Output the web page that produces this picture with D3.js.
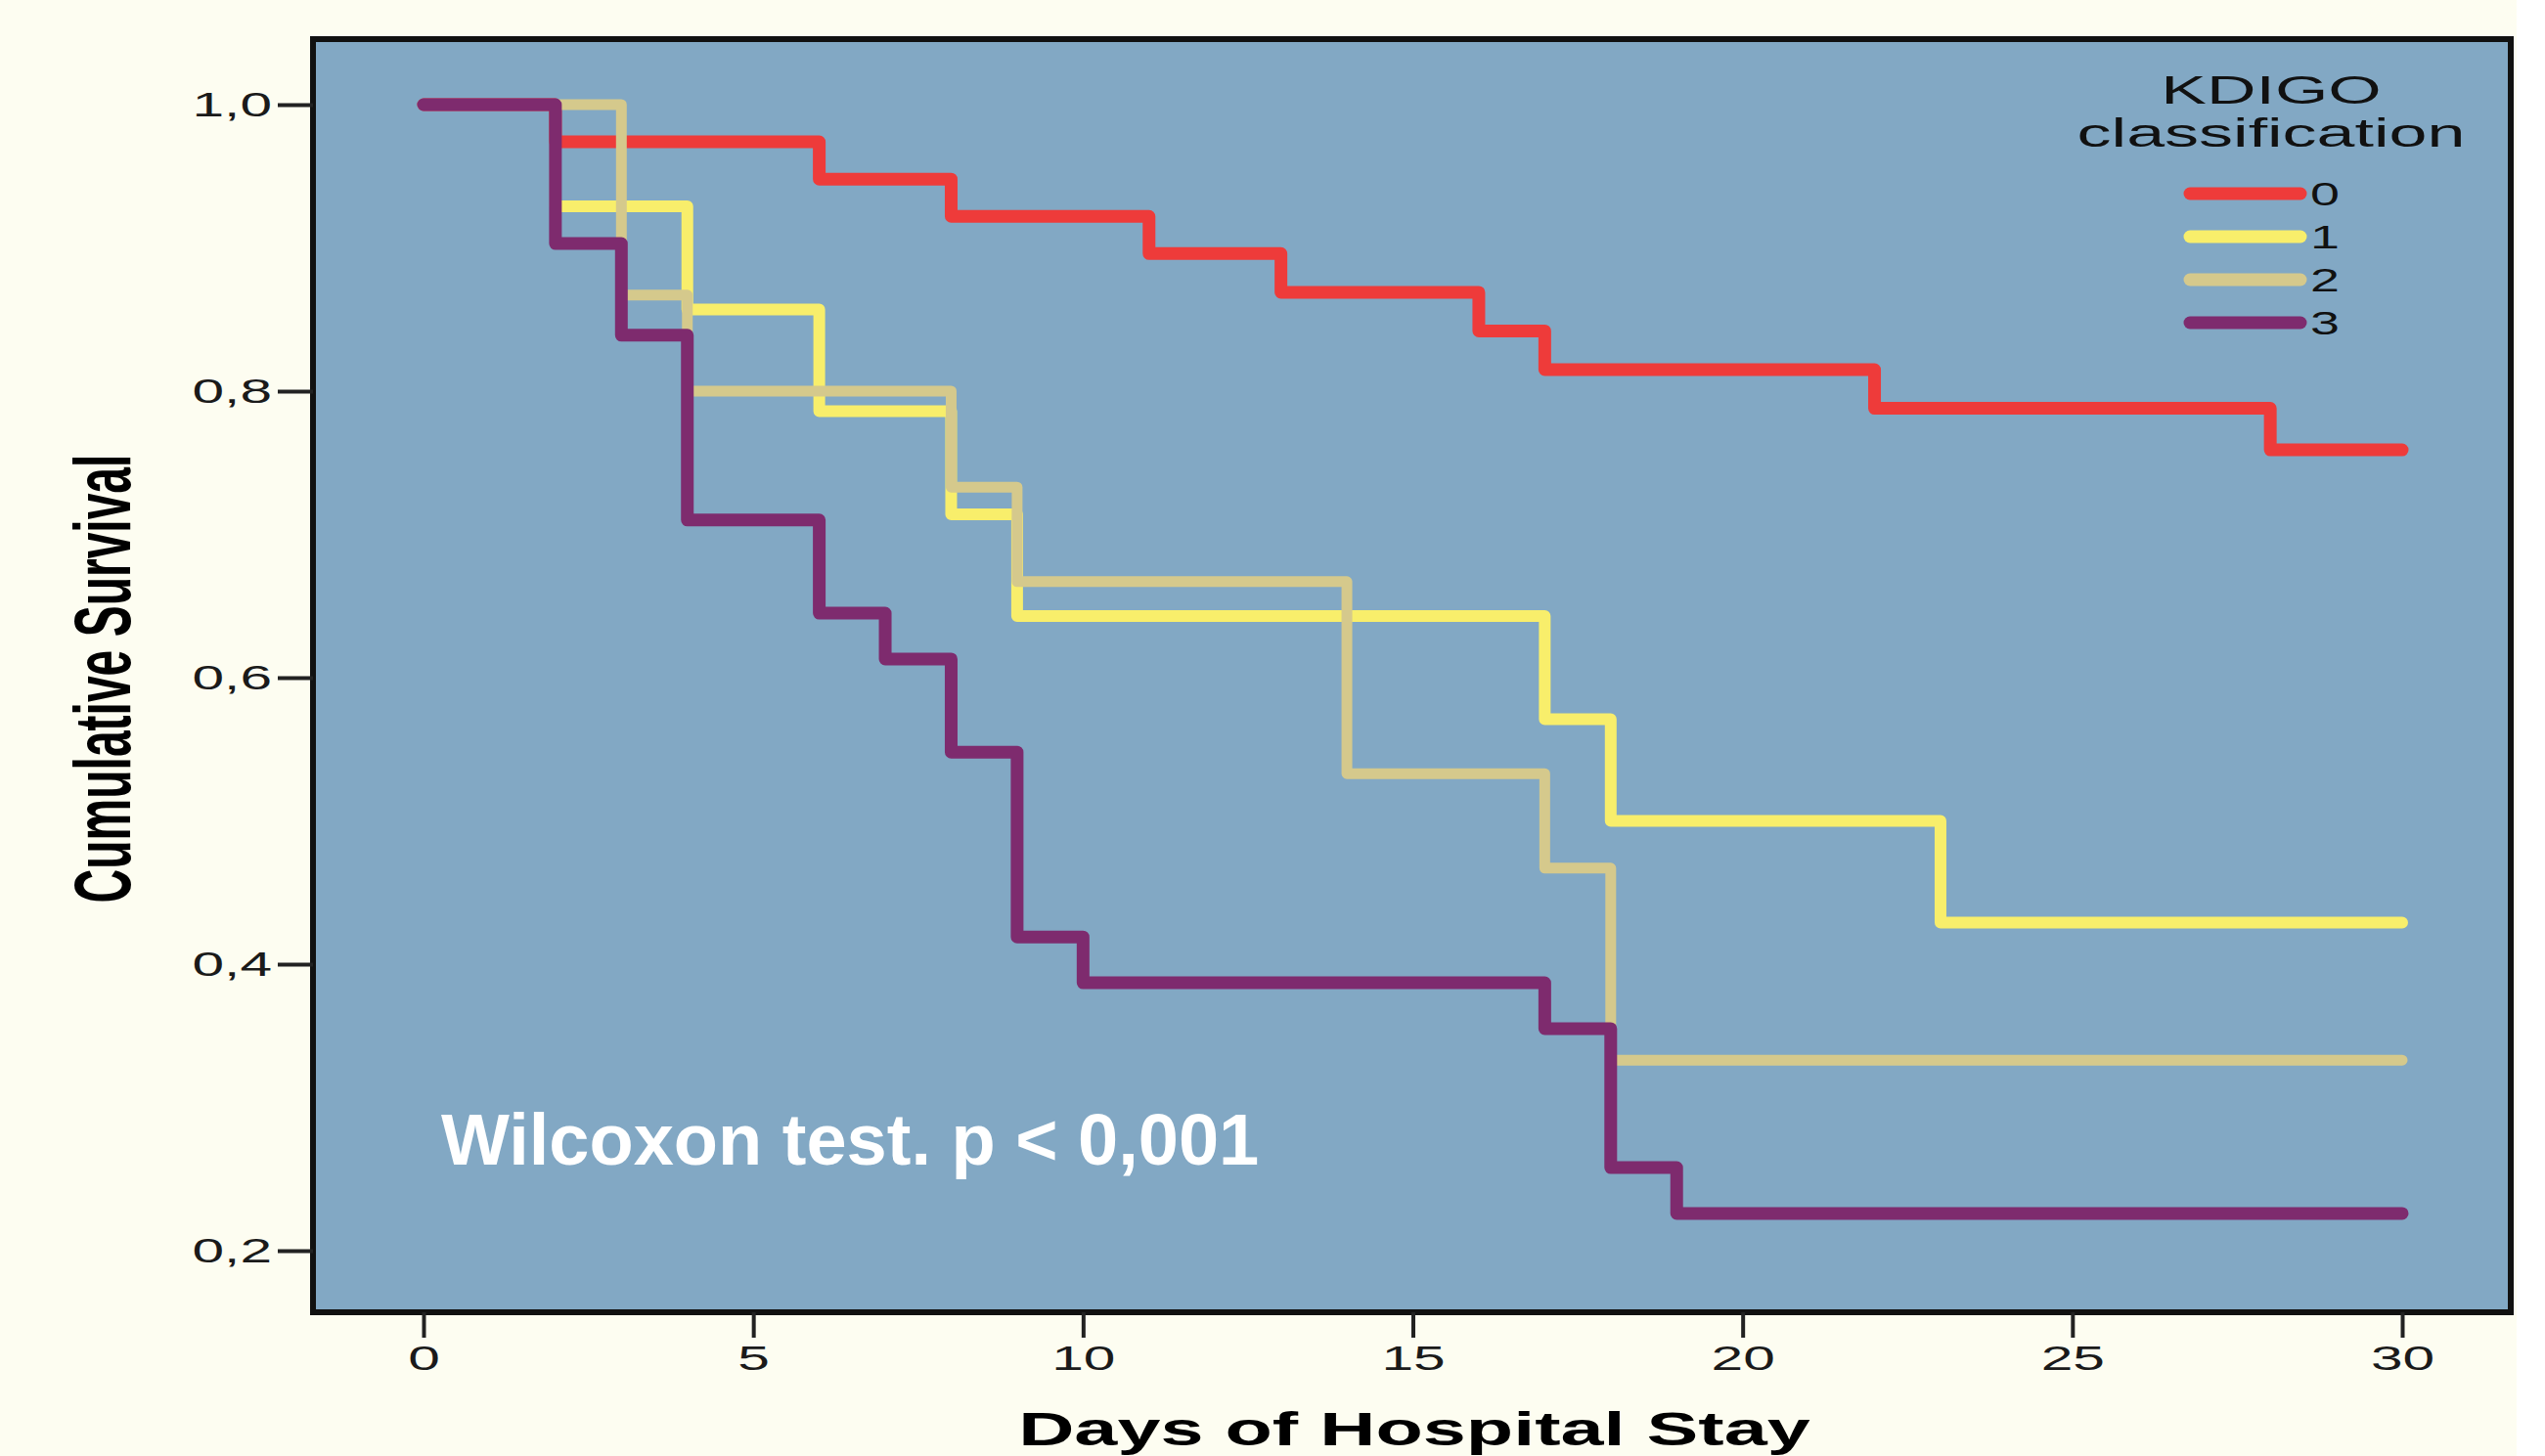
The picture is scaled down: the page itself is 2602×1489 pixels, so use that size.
<!DOCTYPE html>
<html>
<head>
<meta charset="utf-8">
<script src="https://cdn.jsdelivr.net/npm/d3@7"></script>
<style>
  html, body { margin: 0; padding: 0; background: #fdfdf1; }
  svg { display: block; font-family: "Liberation Sans", Arial, sans-serif; }
</style>
</head>
<body>
<svg></svg>
<script>
// Kaplan-Meier steps per KDIGO group (days, cumulative survival)
const groups = ['0', '1', '2', '3'];
const colors = ['#ee3b3a', '#f8ee6b', '#d5c98c', '#7e2b6e'];
const widths = [13, 12, 11, 13];

const days0 = [0, 2, 6, 8, 11, 13, 16, 17, 22, 28, 30];
const surv0 = [1, 0.974, 0.948, 0.922, 0.896, 0.869, 0.842, 0.815, 0.788, 0.759, 0.759];

const days1 = [0, 2, 4, 6, 8, 9, 17, 18, 23, 30];
const surv1 = [1, 0.929, 0.857, 0.786, 0.714, 0.643, 0.571, 0.5, 0.429, 0.429];

const days2 = [0, 3, 4, 8, 9, 14, 17, 18, 30];
const surv2 = [1, 0.867, 0.8, 0.733, 0.667, 0.533, 0.467, 0.333, 0.333];

const days3 = [0, 2, 3, 4, 6, 7, 8, 9, 10, 17, 18, 19, 30];
const surv3 = [1, 0.903, 0.839, 0.71, 0.645, 0.613, 0.548, 0.419, 0.387, 0.355, 0.258, 0.226, 0.226];

const xTicks = [0, 5, 10, 15, 20, 25, 30];
const yTicks = [0.2, 0.4, 0.6, 0.8, 1.0];

const width = 2602;
const height = 1489;
const stretch = 1.63; // the original axes text is drawn wide

const svg = d3.select('svg')
  .attr('width', width)
  .attr('height', height);

svg.append('rect')
  .attr('width', width).attr('height', height)
  .attr('fill', '#fdfdf1');
svg.append('rect')
  .attr('x', 2573).attr('width', width - 2573).attr('height', height)
  .attr('fill', '#ffffff');

const frame = { left: 320, top: 40, right: 2567, bottom: 1342 };

const x = d3.scaleLinear().domain([0, 30]).range([433, 2456]);
const y = d3.scaleLinear().domain([0.2, 1.0]).range([1279, 107]);

svg.append('rect')
  .attr('x', frame.left).attr('y', frame.top)
  .attr('width', frame.right - frame.left)
  .attr('height', frame.bottom - frame.top)
  .attr('fill', '#82a8c4');

// curves
const series = [
  { days: days0, surv: surv0 },
  { days: days1, surv: surv1 },
  { days: days2, surv: surv2 },
  { days: days3, surv: surv3 }
];

const line = d3.line()
  .x(d => x(d[0]))
  .y(d => y(d[1]))
  .curve(d3.curveStepAfter);

svg.append('g')
  .selectAll('path')
  .data(series)
  .enter().append('path')
  .attr('d', s => line(d3.zip(s.days, s.surv)))
  .attr('fill', 'none')
  .attr('stroke', (s, i) => colors[i])
  .attr('stroke-width', (s, i) => widths[i])
  .attr('stroke-linecap', 'round')
  .attr('stroke-linejoin', 'round');

// frame border
svg.append('rect')
  .attr('x', frame.left).attr('y', frame.top)
  .attr('width', frame.right - frame.left)
  .attr('height', frame.bottom - frame.top)
  .attr('fill', 'none')
  .attr('stroke', '#111')
  .attr('stroke-width', 6);

// axes
const yAxis = svg.append('g')
  .attr('transform', `translate(${frame.left},0)`)
  .call(d3.axisLeft(y)
    .tickValues(yTicks)
    .tickSize(36)
    .tickFormat(d => d.toFixed(1).replace('.', ',')));

yAxis.select('.domain').remove();
yAxis.selectAll('line').attr('stroke', '#222').attr('stroke-width', 4);
yAxis.selectAll('text')
  .attr('x', null)
  .attr('transform', `translate(-42,0) scale(${stretch},1)`)
  .attr('font-size', 36)
  .attr('fill', '#1a1a1a');

const xAxis = svg.append('g')
  .attr('transform', `translate(0,${frame.bottom})`)
  .call(d3.axisBottom(x)
    .tickValues(xTicks)
    .tickSize(26));

xAxis.select('.domain').remove();
xAxis.selectAll('line').attr('stroke', '#222').attr('stroke-width', 4);
xAxis.selectAll('text')
  .attr('y', 33)
  .attr('transform', `scale(${stretch},1)`)
  .attr('font-size', 36)
  .attr('fill', '#1a1a1a');

svg.selectAll('.tick text').attr('font-family', '"Liberation Sans", Arial, sans-serif');

// axis titles
svg.append('text')
  .attr('transform', `translate(1446,1478) scale(1.65,1)`)
  .attr('text-anchor', 'middle')
  .attr('font-size', 48)
  .attr('font-weight', 'bold')
  .attr('fill', '#000')
  .text('Days of Hospital Stay');

svg.append('text')
  .attr('transform', `translate(133,694) scale(1.7,1) rotate(-90)`)
  .attr('text-anchor', 'middle')
  .attr('font-size', 48)
  .attr('font-weight', 'bold')
  .attr('fill', '#000')
  .text('Cumulative Survival');

// legend
const legend = svg.append('g');
legend.append('text')
  .attr('transform', `translate(2322,106) scale(1.75,1)`)
  .attr('text-anchor', 'middle')
  .attr('font-size', 40)
  .attr('fill', '#111')
  .text('KDIGO');
legend.append('text')
  .attr('transform', `translate(2322,150) scale(1.75,1)`)
  .attr('text-anchor', 'middle')
  .attr('font-size', 40)
  .attr('fill', '#111')
  .text('classification');

const rows = legend.selectAll('.row')
  .data(groups)
  .enter().append('g')
  .attr('class', 'row')
  .attr('transform', (d, i) => `translate(0,${198 + i * 44})`);

rows.append('line')
  .attr('x1', 2239).attr('x2', 2352)
  .attr('stroke', (d, i) => colors[i])
  .attr('stroke-width', 13)
  .attr('stroke-linecap', 'round');

rows.append('text')
  .attr('transform', `translate(2362,12) scale(${stretch},1)`)
  .attr('font-size', 33)
  .attr('fill', '#111')
  .text(d => d);

// test annotation
svg.append('text')
  .attr('x', 451).attr('y', 1191)
  .attr('font-size', 74)
  .attr('font-weight', 'bold')
  .attr('fill', '#ffffff')
  .text('Wilcoxon test. p < 0,001');
</script>
</body>
</html>
